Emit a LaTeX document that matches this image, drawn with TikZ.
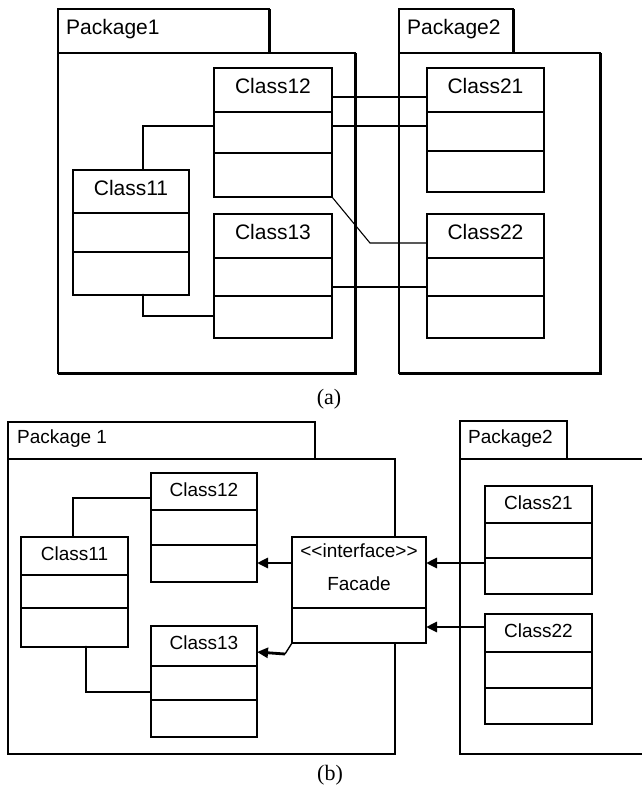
\documentclass[tikz,border=0pt]{standalone}
\usepackage{fontspec}
\setmainfont{Liberation Serif}
\newfontfamily\umlfont{Liberation Sans}
\usetikzlibrary{arrows.meta}
\newcommand\umlclass[9]{%
  \node[clsbox, minimum width={(#4)-(#2)}, minimum height={(#5)-(#3)}] (#1) at ({((#2)+(#4))/2},{((#3)+(#5))/2}) {};
  \draw[clsline] (#1.west |- 0,#6) -- (#1.east |- 0,#6);
  \draw[clsline] (#1.west |- 0,#7) -- (#1.east |- 0,#7);
  \node[clstext] (#1-name) at ({((#2)+(#4))/2},#8) {#9};
}
\begin{document}
\begin{tikzpicture}[x=1pt,y=-1pt,
  pkgbox/.style={draw, inner sep=0pt, outer sep=0pt},
  shadowline/.style={line width=3pt},
  pkglabel/.style={anchor=base west, inner sep=0pt},
  caption/.style={anchor=base, inner sep=0pt, font=\fontsize{22}{26}\selectfont},
  conn/.style={line width=1.1pt},
  arr/.style={line width=2.8pt, -{Triangle[length=11pt,width=10pt]}},
  jdot/.style={circle, fill=black, inner sep=0pt, minimum size=3pt}
]
\useasboundingbox (0,0) rectangle (642,785);

% ================= (a) =================
\begin{scope}[
  clsbox/.style={draw, fill=white, line width=1.3pt, inner sep=0pt, outer sep=0pt},
  clsline/.style={line width=1.3pt},
  clstext/.style={anchor=base, inner sep=0pt, font=\umlfont\fontsize{21}{24}\selectfont},
  pkgbox/.append style={line width=1.4pt},
  pkglabel/.append style={font=\umlfont\fontsize{21}{24}\selectfont}]
  % Package1
  \node[pkgbox, minimum width=211, minimum height=44] (p1tab) at (163.5,31) {};
  \node[pkglabel] (p1name) at (66,34) {Package1};
  \node[pkgbox, minimum width=297, minimum height=320] (p1body) at (206.5,213) {};
  \draw[shadowline] (p1tab.north east) -- (p1tab.south east);
  \draw[shadowline] (p1body.north east) -- (p1body.south east) -- (p1body.south west);
  % Package2
  \node[pkgbox, minimum width=114, minimum height=44] (p2tab) at (456,31) {};
  \node[pkglabel] (p2name) at (407,34) {Package2};
  \node[pkgbox, minimum width=201, minimum height=320] (p2body) at (499.5,213) {};
  \draw[shadowline] (p2tab.north east) -- (p2tab.south east);
  \draw[shadowline] (p2body.north east) -- (p2body.south east) -- (p2body.south west);
  \coordinate (abend) at (370,243);
  % classes
  \umlclass{a12}{214}{68}{332}{197}{112}{153}{93}{Class12}
  \umlclass{a11}{73}{170}{189}{295}{213}{252}{195}{Class11}
  \umlclass{a13}{214}{214}{332}{338}{258}{296}{239}{Class13}
  \umlclass{a21}{427}{68}{544}{192}{112}{151}{93}{Class21}
  \umlclass{a22}{427}{214}{544}{338}{258}{296}{239}{Class22}
  % connectors
  \draw[conn] (a12.east |- 0,97) -- (a21.west |- 0,97);
  \draw[conn] (a12.east |- 0,126) -- (a21.west |- 0,126);
  \draw[conn] (a13.east |- 0,287) -- (a22.west |- 0,287);
  \draw[conn] (a11.north -| 143,0) |- (a12.west |- 0,126);
  \draw[conn] (a11.south -| 143,0) |- (a13.west |- 0,316);
  \node[jdot] (a11dot) at (a11.south -| 143,0) {};
  \draw[conn] (a12.south east) -- (abend) -- (a22.west |- abend);
  \node[caption] (capa) at (329,404) {(a)};
\end{scope}

% ================= (b) =================
\begin{scope}[
  clsbox/.style={draw, fill=white, line width=2pt, inner sep=0pt, outer sep=0pt},
  clsline/.style={line width=2pt},
  clstext/.style={anchor=base, inner sep=0pt, font=\umlfont\fontsize{19}{22}\selectfont},
  pkgbox/.append style={line width=1.8pt},
  pkglabel/.append style={font=\umlfont\fontsize{19}{22}\selectfont}]
  % Package 1
  \node[pkgbox, minimum width=307, minimum height=37] (q1tab) at (161.5,440.5) {};
  \node[pkglabel] (q1name) at (17,443) {Package 1};
  \node[pkgbox, minimum width=387, minimum height=295] (q1body) at (201.5,606.5) {};
  % Package2 (open to the right)
  \node[pkgbox, minimum width=107, minimum height=38] (q2tab) at (513.5,440) {};
  \node[pkglabel] (q2name) at (468,443) {Package2};
  \coordinate (q2tr) at (642,459);
  \coordinate (q2br) at (642,754);
  \draw[line width=1.8pt] (q2tr) -- (q2tab.south west) -- (q2tab.south west |- q2br) -- (q2br);
  % classes
  \umlclass{b12}{151}{473}{257}{582}{510}{545}{496}{Class12}
  \umlclass{b11}{21}{537}{128}{647}{575}{608}{560}{Class11}
  \umlclass{b13}{151}{626}{257}{737}{666}{700}{649}{Class13}
  \umlclass{b21}{485}{486}{592}{594}{523}{558}{509}{Class21}
  \umlclass{b22}{485}{614}{592}{724}{652}{688}{637}{Class22}
  % Facade
  \node[clsbox, minimum width=134, minimum height=106] (fac) at (359,590) {};
  \draw[clsline] (fac.west |- 0,608) -- (fac.east |- 0,608);
  \node[clstext] (facst) at (359,557) {<<interface>>};
  \node[clstext] (facname) at (359,590) {Facade};
  % connectors
  \draw[conn] (b11.north -| 73,0) |- (b12.west |- 0,498);
  \draw[conn] (b11.south -| 86,0) |- (b13.west |- 0,692);
  \node[jdot] (b11dot) at (b11.south -| 86,0) {};
  \draw[arr] (fac.west |- 0,563) -- (b12.east |- 0,563);
  \coordinate (fbend) at (285,654);
  \draw[line width=1.4pt] (fac.south west) -- (fbend);
  \draw[arr] (fbend) -- (b13.east |- 0,652);
  \draw[arr] (b21.west |- 0,563) -- (fac.east |- 0,563);
  \draw[arr] (b22.west |- 0,627) -- (fac.east |- 0,627);
  \node[caption] (capb) at (330,780) {(b)};
\end{scope}
\end{tikzpicture}
\end{document}
